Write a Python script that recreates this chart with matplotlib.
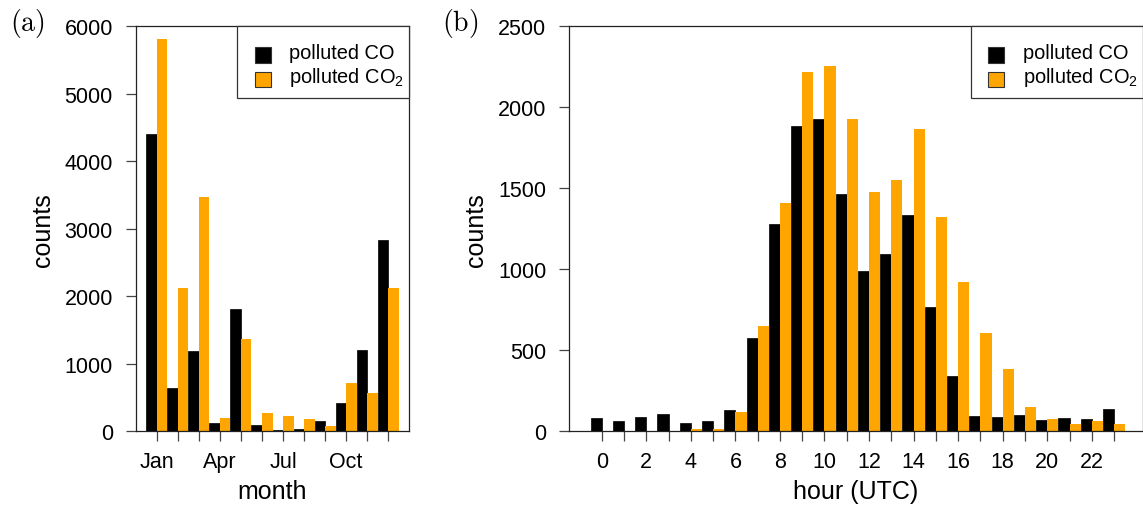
import matplotlib
matplotlib.use("Agg")
import matplotlib.pyplot as plt
from matplotlib.patches import Rectangle
import numpy as np

plt.rcParams["font.family"] = ["Liberation Sans", "DejaVu Sans"]
plt.rcParams["mathtext.fontset"] = "custom"
plt.rcParams["mathtext.rm"] = "Liberation Sans"
plt.rcParams["mathtext.it"] = "Liberation Sans:italic"

# ---- data -------------------------------------------------------------
months = ["Jan", "Feb", "Mar", "Apr", "May", "Jun",
          "Jul", "Aug", "Sep", "Oct", "Nov", "Dec"]
month_tick_labels = ["Jan", "", "", "Apr", "", "", "Jul", "", "", "Oct", "", ""]
co_month = [4400, 640, 1190, 128, 1810, 94, 20, 35, 153, 420, 1204, 2832]
co2_month = [5807, 2121, 3468, 198, 1367, 277, 227, 183, 79, 715, 567, 2121]

hours = list(range(24))
hour_tick_labels = [str(h) if h % 2 == 0 else "" for h in hours]
co_hour = [82, 64, 88, 107, 51, 64, 132, 576, 1279, 1883, 1926, 1464,
           989, 1094, 1334, 767, 341, 95, 88, 101, 70, 82, 76, 138]
co2_hour = [0, 0, 0, 0, 14, 14, 119, 650, 1408, 2216, 2253, 1926,
            1476, 1550, 1865, 1322, 921, 606, 384, 150, 76, 45, 64, 45]

series_labels = ["polluted CO", r"polluted CO$_\mathrm{2}$"]
series_colors = ["#000000", "#FFA500"]

# ---- figure -----------------------------------------------------------
W, H = 1143, 506
fig = plt.figure(figsize=(W / 100, H / 100), dpi=100)


def fx(px):
    return px / W


def fy(py):
    return 1 - py / H


def px_axes(x0, y0, x1, y1):
    return fig.add_axes([fx(x0), fy(y1), (x1 - x0) / W, (y1 - y0) / H])


A_BOX = (135.7, 27, 409.3, 432.3)
B_BOX = (569.3, 27, 1142.6, 432.3)
ax_a = px_axes(*A_BOX)
ax_b = px_axes(*B_BOX)

TICK_FS = 15.5
LABEL_FS = 18
LEG_FS = 14.4


def style(ax):
    for s in ax.spines.values():
        s.set_color("#222222")
        s.set_linewidth(0.9)
    ax.tick_params(axis="both", direction="out", length=7.5, width=0.9,
                   color="#444444", labelsize=TICK_FS)
    ax.tick_params(axis="x", pad=7)
    ax.tick_params(axis="y", pad=9)


def draw_legend(ax, right, top):
    """Boxed key in the upper-right corner, laid out in pixels."""
    tf = fig.transFigure
    frame_w, frame_h = 172.0, 72.3
    ax.add_patch(Rectangle((fx(right - frame_w), fy(top + frame_h)),
                           frame_w / W, frame_h / H, transform=tf,
                           facecolor="white", edgecolor="#333333",
                           linewidth=0.9, zorder=5, clip_on=False))
    row_top = [21.3, 45.7]
    row_base = [32.0, 56.3]
    for i, (lab, col) in enumerate(zip(series_labels, series_colors)):
        y0 = top + row_top[i]
        ax.add_patch(Rectangle((fx(right - 154.3), fy(y0 + 15.3)),
                               15.7 / W, 15.3 / H, transform=tf,
                               facecolor=col, edgecolor="#333333",
                               linewidth=0.8, zorder=6, clip_on=False))
        ax.text(fx(right - 120.0), fy(top + row_base[i]), lab,
                transform=tf, fontsize=LEG_FS, ha="left", va="baseline",
                zorder=7, clip_on=False)


# (a) monthly counts
xm = np.arange(1, len(months) + 1)
ax_a.bar(xm - 0.25, co_month, width=0.5, color=series_colors[0],
         edgecolor=series_colors[0], linewidth=0.5)
ax_a.bar(xm + 0.25, co2_month, width=0.5, color=series_colors[1], linewidth=0)
ax_a.set_xlim(0, 13)
ax_a.set_ylim(0, 6000)
ax_a.set_xticks(xm)
ax_a.set_xticklabels(month_tick_labels)
ax_a.set_yticks(np.arange(0, 6001, 1000))
ax_a.set_xlabel("month", fontsize=LABEL_FS, labelpad=5)
ax_a.set_ylabel("counts", fontsize=LABEL_FS, labelpad=7)
style(ax_a)
draw_legend(ax_a, A_BOX[2], A_BOX[1])

# (b) hourly counts
xh = np.array(hours)
ax_b.bar(xh - 0.25, co_hour, width=0.5, color=series_colors[0],
         edgecolor=series_colors[0], linewidth=0.5)
ax_b.bar(xh + 0.25, co2_hour, width=0.5, color=series_colors[1], linewidth=0)
ax_b.set_xlim(-1.455, 24.28)
ax_b.set_ylim(0, 2500)
ax_b.set_xticks(xh)
ax_b.set_xticklabels(hour_tick_labels)
ax_b.set_yticks(np.arange(0, 2501, 500))
ax_b.set_xlabel("hour (UTC)", fontsize=LABEL_FS, labelpad=5)
ax_b.set_ylabel("counts", fontsize=LABEL_FS, labelpad=7)
style(ax_b)
draw_legend(ax_b, B_BOX[2], B_BOX[1])

# panel letters
for xpix, letter in [(10, "a"), (441.5, "b")]:
    fig.text(fx(xpix), fy(30.8), r"$\mathrm{(" + letter + r")}$",
             fontsize=20, math_fontfamily="cm", ha="left", va="baseline")

fig.savefig("out.png", dpi=100)
